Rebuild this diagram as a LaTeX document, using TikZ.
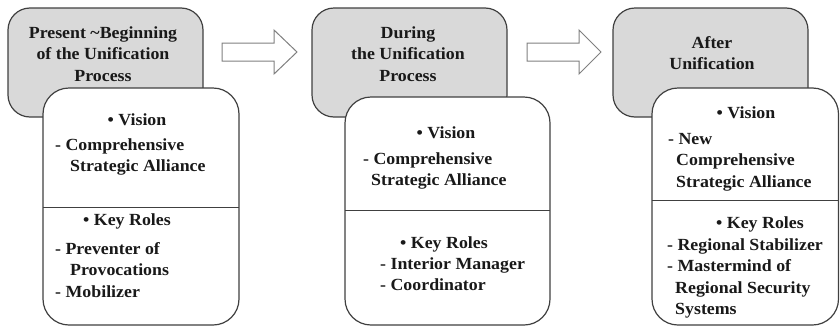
\documentclass[tikz,border=0pt]{standalone}
\usepackage{fontspec}
\setmainfont{Liberation Serif}[FakeStretch=1.05]
\begin{document}
\begin{tikzpicture}[x=1pt,y=-1pt,
  hdrbox/.style={draw=black!75,line width=1.2pt,fill=black!15,rounded corners=22pt},
  bodybox/.style={draw=black!75,line width=1.2pt,fill=white,rounded corners=26pt},
  divider/.style={draw=black!75,line width=1pt},
  blockarrow/.style={draw=black!50,line width=1pt,fill=white,line join=miter},
  txt/.style={inner sep=0pt,font=\fontsize{17}{21.5}\selectfont\bfseries,text=black!90},
  hdr/.style={txt,align=center},
  lst/.style={txt,align=left,anchor=base west},
  bul/.style={txt,anchor=base}]
\useasboundingbox (0,0) rectangle (840,327);
% panel 1
\draw[hdrbox] (8,8) rectangle (203,117);
\draw[bodybox] (43,88) rectangle (239,325);
\draw[divider] (43,207) -- (239,207);
\node[hdr] (h1) at (103,54) {Present \textasciitilde Beginning\\of the Unification\\Process};
\node[bul] (v1) at (137,125) {• Vision};
\node[lst] (c1) at (55,171.5) {- Comprehensive\\\hspace{15pt}Strategic Alliance};
\node[bul] (k1) at (127,225) {• Key Roles};
\node[lst] (r1) at (55,297) {- Preventer of\\\hspace{15pt}Provocations\\- Mobilizer};
% arrow 1
\draw[blockarrow] (222,43) -- (274,43) -- (274,30) -- (297,52) -- (274,74) -- (274,61) -- (222,61) -- cycle;
% panel 2
\draw[hdrbox] (312,8) rectangle (507,117);
\draw[bodybox] (345,97) rectangle (550,325);
\draw[divider] (345,210) -- (550,210);
\node[hdr] (h2) at (408,54) {During\\the Unification\\Process};
\node[bul] (v2) at (446,138) {• Vision};
\node[lst] (c2) at (363,185.5) {- Comprehensive\\\hspace{8pt}Strategic Alliance};
\node[bul] (k2) at (444,248) {• Key Roles};
\node[lst] (r2) at (380,290.5) {- Interior Manager\\- Coordinator};
% arrow 2
\draw[blockarrow] (527,43) -- (579,43) -- (579,30) -- (601,52) -- (579,74) -- (579,61) -- (527,61) -- cycle;
% panel 3
\draw[hdrbox] (613,8) rectangle (808,117);
\draw[bodybox] (652,88) rectangle (838.5,325);
\draw[divider] (652,200) -- (838.5,200);
\node[hdr] (h3) at (712,53) {After\\Unification};
\node[bul] (v3) at (746,118) {• Vision};
\node[lst] (c3) at (668,187) {- New\\\hspace{8pt}Comprehensive\\\hspace{8pt}Strategic Alliance};
\node[bul] (k3) at (760,228) {• Key Roles};
\node[lst] (r3) at (667,314.5) {- Regional Stabilizer\\- Mastermind of\\\hspace{8pt}Regional Security\\\hspace{8pt}Systems};
\end{tikzpicture}
\end{document}
